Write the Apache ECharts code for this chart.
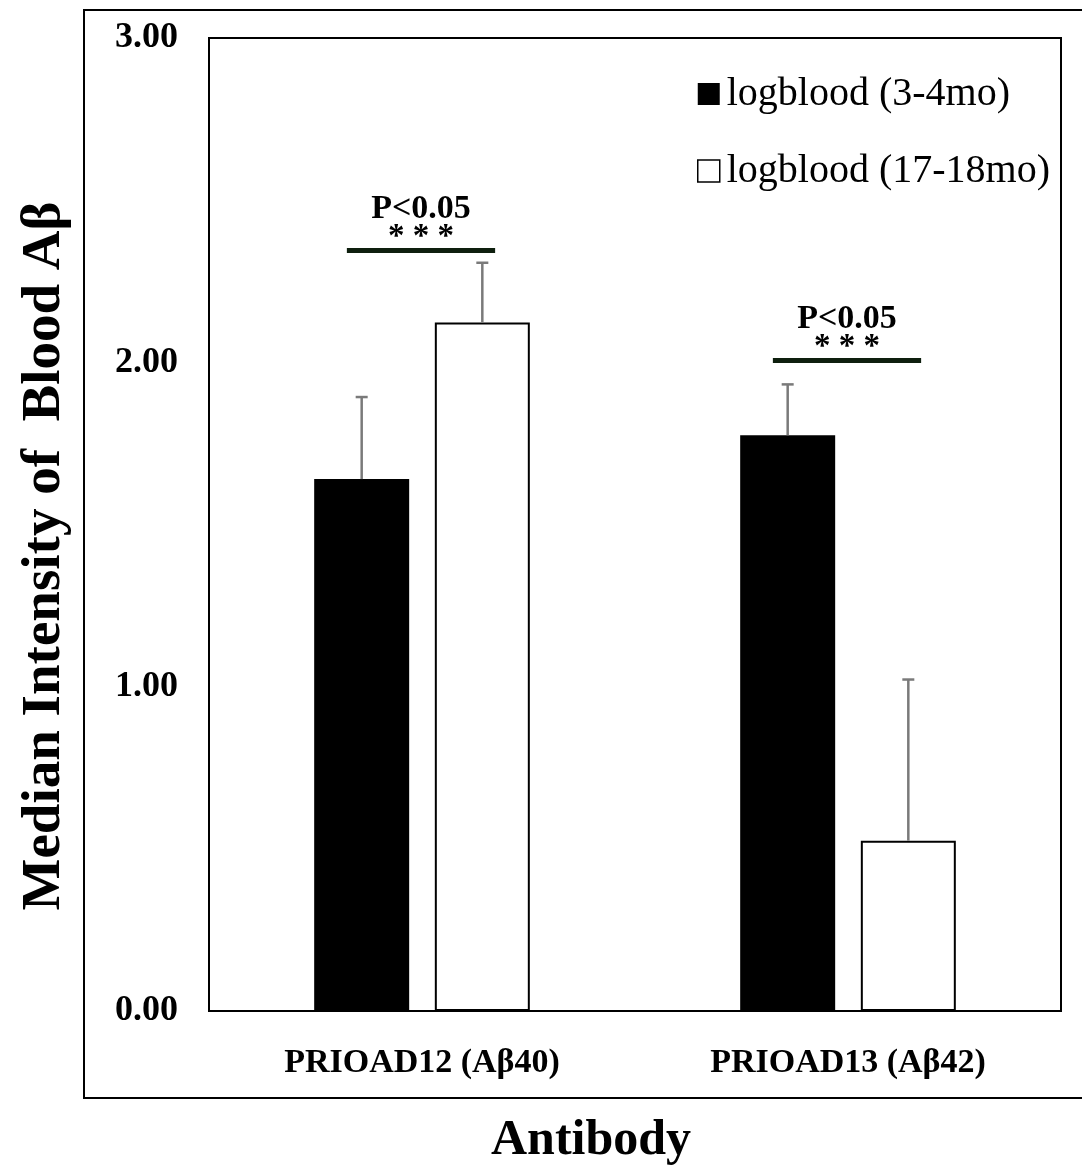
<!DOCTYPE html>
<html>
<head>
<meta charset="utf-8">
<script src="https://cdn.jsdelivr.net/npm/echarts@6/dist/echarts.min.js"></script>
<style>
  html, body { margin: 0; padding: 0; background: #fff; }
  #main { width: 1082px; height: 1173px; }
</style>
</head>
<body>
<div id="main"></div>
<script>
// values
var categories = ['PRIOAD12 (Aβ40)', 'PRIOAD13 (Aβ42)'];
var young = [1.64, 1.775];        // logblood (3-4mo)
var youngErr = [0.253, 0.157];
var old = [2.123, 0.525];         // logblood (17-18mo)
var oldErr = [0.184, 0.497];
var sigLevel = [2.345, 2.006];    // height of the significance bars
var sigText = ['P<0.05', 'P<0.05'];
var yTicks = [0, 1, 2, 3];

var FONT = 'Liberation Serif';
var BAR_W = 0.223;   // fraction of the band
var BAR_GAP = 0.27;  // fraction of bar width

function errData(vals, errs) {
  return vals.map(function (v, i) { return [i, v, v + errs[i]]; });
}

function errRender(side) {
  return function (params, api) {
    var band = api.size([1, 0])[0];
    var bw = band * BAR_W;
    var off = side * (bw + bw * BAR_GAP) / 2;
    var lo = api.coord([api.value(0), api.value(1)]);
    var hi = api.coord([api.value(0), api.value(2)]);
    var x = lo[0] + off;
    var st = { stroke: '#7a7a7a', lineWidth: 2.5 };
    return {
      type: 'group',
      children: [
        { type: 'line', shape: { x1: x, y1: lo[1], x2: x, y2: hi[1] }, style: st },
        { type: 'line', shape: { x1: x - 6, y1: hi[1], x2: x + 6, y2: hi[1] }, style: st }
      ]
    };
  };
}

var chart = echarts.init(document.getElementById('main'));
chart.setOption({
  backgroundColor: '#fff',
  animation: false,
  grid: {
    left: 209, right: 21, top: 38, bottom: 162,
    outerBoundsMode: 'none',
    show: true, borderColor: '#000', borderWidth: 2
  },
  legend: {
    orient: 'vertical',
    left: 692, top: 69,
    icon: 'rect',
    itemWidth: 22, itemHeight: 22,
    itemGap: 37,
    textStyle: { fontFamily: FONT, fontSize: 40, color: '#000', lineHeight: 40, padding: [0, 0, 0, 2] },
    data: [
      { name: 'logblood (3-4mo)', itemStyle: { color: '#000', borderWidth: 0 } },
      { name: 'logblood (17-18mo)', itemStyle: { color: '#fff', borderColor: '#000', borderWidth: 1.5 } }
    ]
  },
  xAxis: {
    type: 'category',
    data: categories,
    axisLine: { lineStyle: { color: '#000', width: 2 } },
    axisTick: { show: false },
    axisLabel: { fontFamily: FONT, fontWeight: 'bold', fontSize: 34, color: '#000', margin: 35 }
  },
  yAxis: {
    type: 'value',
    min: yTicks[0], max: yTicks[yTicks.length - 1], interval: 1,
    axisLine: { show: true, lineStyle: { color: '#000', width: 2 } },
    axisTick: { show: false },
    splitLine: { show: false },
    axisLabel: {
      fontFamily: FONT, fontWeight: 'bold', fontSize: 36, color: '#000', margin: 31,
      padding: [7, 0, 0, 0],
      formatter: function (v) { return v.toFixed(2); }
    }
  },
  series: [
    {
      name: 'logblood (3-4mo)', type: 'bar', data: young,
      barWidth: (BAR_W * 100) + '%', barGap: (BAR_GAP * 100) + '%',
      itemStyle: { color: '#000' }
    },
    {
      name: 'logblood (17-18mo)', type: 'bar', data: old,
      barWidth: (BAR_W * 100) + '%',
      itemStyle: { color: '#fff', borderColor: '#000', borderWidth: 2 }
    },
    {
      type: 'custom', name: 'errYoung', data: errData(young, youngErr),
      encode: { x: 0, y: [1, 2] }, renderItem: errRender(-1), z: 5
    },
    {
      type: 'custom', name: 'errOld', data: errData(old, oldErr),
      encode: { x: 0, y: [1, 2] }, renderItem: errRender(1), z: 5
    },
    {
      type: 'custom', name: 'sig',
      data: sigLevel.map(function (v, i) { return [i, v]; }),
      encode: { x: 0, y: 1 }, z: 6,
      renderItem: function (params, api) {
        var p = api.coord([api.value(0), api.value(1)]);
        var half = api.size([1, 0])[0] * 0.174;
        var cx = p[0] - 1;
        return {
          type: 'group',
          children: [
            { type: 'line', shape: { x1: cx - half, y1: p[1], x2: cx + half, y2: p[1] },
              style: { stroke: '#0e1f0e', lineWidth: 5 } },
            { type: 'text', x: cx, y: p[1] - 24,
              style: { text: sigText[params.dataIndex], font: 'bold 34px "' + FONT + '"', fill: '#000',
                       textAlign: 'center', textVerticalAlign: 'bottom' } },
            { type: 'text', x: cx, y: p[1] + 4,
              style: { text: '* * *', font: 'bold 33px "' + FONT + '"', fill: '#000',
                       textAlign: 'center', textVerticalAlign: 'bottom' } }
          ]
        };
      }
    }
  ],
  graphic: [
    { type: 'rect', shape: { x: 84, y: 10, width: 1100, height: 1088 },
      style: { fill: null, stroke: '#000', lineWidth: 2 }, silent: true },
    { type: 'text', x: 45, y: 556, rotation: Math.PI / 2,
      style: { text: 'Median Intensity of  Blood Aβ', font: 'bold 55px "' + FONT + '"', fill: '#000',
               textAlign: 'center', textVerticalAlign: 'middle' } },
    { type: 'text', x: 591, y: 1141,
      style: { text: 'Antibody', font: 'bold 50px "' + FONT + '"', fill: '#000',
               textAlign: 'center', textVerticalAlign: 'middle' } }
  ]
});
</script>
</body>
</html>
